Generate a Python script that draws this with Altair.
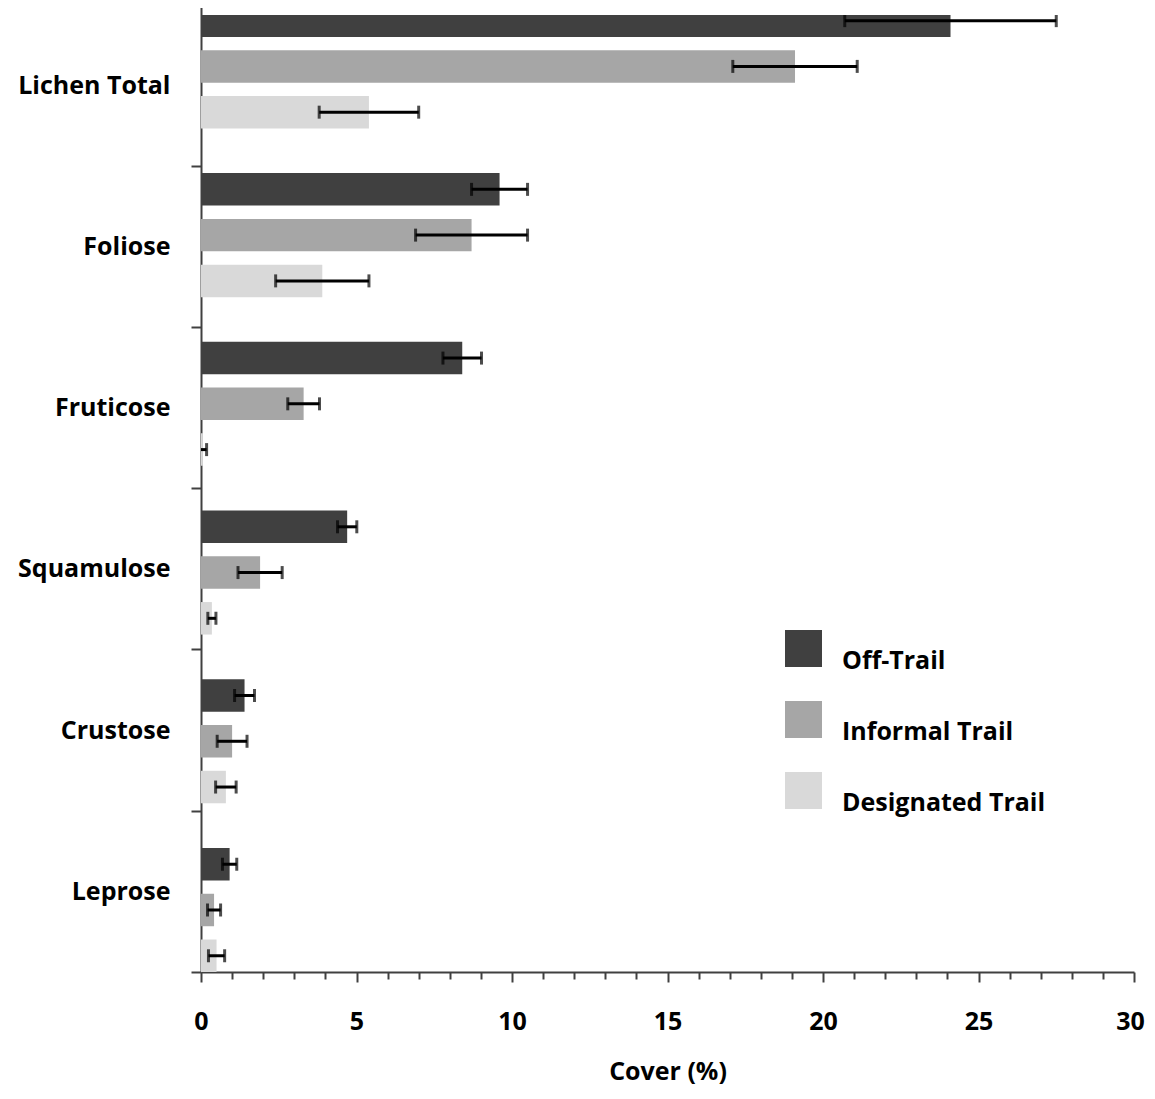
import altair as alt
import pandas as pd

categories = ["Lichen Total", "Foliose", "Fruticose", "Squamulose", "Crustose", "Leprose"]
series = ["Off-Trail", "Informal Trail", "Designated Trail"]
colors = ["#404040", "#a6a6a6", "#d9d9d9"]

off_trail = [24.1, 9.6, 8.4, 4.7, 1.4, 0.92]
off_trail_se = [3.4, 0.9, 0.62, 0.31, 0.32, 0.23]
informal = [19.1, 8.7, 3.3, 1.9, 1.0, 0.42]
informal_se = [2.0, 1.8, 0.51, 0.71, 0.48, 0.21]
designated = [5.4, 3.9, 0.06, 0.35, 0.8, 0.5]
designated_se = [1.6, 1.5, 0.12, 0.13, 0.33, 0.26]

x_ticks = list(range(0, 31))

rows = []
for s, vals, ses in zip(series, [off_trail, informal, designated],
                        [off_trail_se, informal_se, designated_se]):
    for c, v, e in zip(categories, vals, ses):
        rows.append({"category": c, "series": s, "value": v, "se": e,
                     "lo": v - e, "hi": v + e})
df = pd.DataFrame(rows)
cat_df = pd.DataFrame({"category": categories})

FONT = "Open Sans"
Y_RANGE = [-10.6, 957]

x_scale = alt.Scale(domain=[0, 30], nice=False, zero=False)

y_bar = alt.Y("category:N", sort=categories,
              scale=alt.Scale(type="band", range=Y_RANGE, paddingInner=0.265, paddingOuter=0),
              axis=None)
y_off = alt.YOffset("series:N", sort=series,
                    scale=alt.Scale(paddingInner=0.29, paddingOuter=0))

x_axis = alt.Axis(
    values=x_ticks,
    labelExpr="datum.value % 5 === 0 ? datum.label : ''",
    tickSize={"condition": {"test": "datum.value % 5 === 0", "value": 10}, "value": 7},
    labelOffset={"condition": {"test": "datum.value === 30", "value": -4}, "value": 0},
    tickColor="#404040", tickWidth=2,
    domainColor="#404040", domainWidth=2,
    labelFont=FONT, labelFontWeight="bold", labelFontSize=25, labelColor="black",
    labelPadding=27, labelOverlap=False, labelFlush=False,
    title="Cover (%)", titleFont=FONT, titleFontWeight="bold", titleFontSize=25,
    titleColor="black", titlePadding=25, grid=False,
)

bars = alt.Chart(df).mark_bar(clip=True).encode(
    x=alt.X("value:Q", scale=x_scale, axis=x_axis),
    y=y_bar,
    yOffset=y_off,
    color=alt.Color(
        "series:N", sort=series,
        scale=alt.Scale(domain=series, range=colors),
        legend=alt.Legend(
            orient="none", legendX=584, legendY=615, title=None,
            symbolType="square", symbolSize=1369, symbolStrokeWidth=0,
            labelFont=FONT, labelFontWeight="bold", labelFontSize=25,
            labelColor="black", labelOffset=20, rowPadding=27, padding=0,
            labelLimit=400, labelBaseline="top",
        ),
    ),
)

rules = alt.Chart(df).mark_rule(clip=True, color="black", strokeWidth=3).encode(
    x=alt.X("lo:Q", scale=x_scale, axis=x_axis), x2="hi:Q", y=y_bar, yOffset=y_off,
)

caps = alt.Chart(df).transform_fold(["lo", "hi"], as_=["end", "pos"]).mark_tick(
    clip=True, color="black", thickness=3, size=13, orient="vertical"
).encode(
    x=alt.X("pos:Q", scale=x_scale, axis=x_axis), y=y_bar, yOffset=y_off,
)

axis_layer = alt.Chart(cat_df).mark_point(opacity=0).encode(
    x=alt.value(0),
    y=alt.Y("category:N", sort=categories,
            scale=alt.Scale(type="band", range=Y_RANGE, paddingInner=0, paddingOuter=0),
            axis=alt.Axis(
                orient="left", title=None, tickBand="extent", tickSize=10,
                tickColor="#404040", tickWidth=2,
                domainColor="#404040", domainWidth=2,
                labelFont=FONT, labelFontWeight="bold", labelFontSize=25,
                labelColor="black", labelPadding=21, labelLimit=400,
            )),
)

chart = alt.layer(
    alt.layer(bars, rules, caps),
    axis_layer,
).resolve_scale(y="independent").properties(
    width=933, height=957,
    autosize=alt.AutoSizeParams(type="none"),
    padding={"left": 193, "top": 7, "right": 13, "bottom": 113},
).configure_view(stroke=None)

chart.save("out.html", embed_options={"renderer": "svg", "actions": False})
